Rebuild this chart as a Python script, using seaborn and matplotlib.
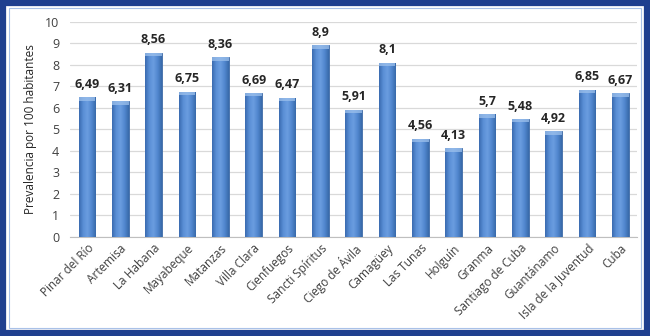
import numpy as np
import pandas as pd
import seaborn as sns
import matplotlib.pyplot as plt
from matplotlib.patches import Rectangle
from matplotlib.colors import LinearSegmentedColormap

provincias = ["Pinar del Río", "Artemisa", "La Habana", "Mayabeque", "Matanzas",
              "Villa Clara", "Cienfuegos", "Sancti Spíritus", "Ciego de Ávila",
              "Camagüey", "Las Tunas", "Holguín", "Granma", "Santiago de Cuba",
              "Guantánamo", "Isla de la Juventud", "Cuba"]
prevalencia = [6.49, 6.31, 8.56, 6.75, 8.36, 6.69, 6.47, 8.9, 5.91,
               8.1, 4.56, 4.13, 5.7, 5.48, 4.92, 6.85, 6.67]
etiquetas = ["6,49", "6,31", "8,56", "6,75", "8,36", "6,69", "6,47", "8,9", "5,91",
             "8,1", "4,56", "4,13", "5,7", "5,48", "4,92", "6,85", "6,67"]

df = pd.DataFrame({"provincia": provincias, "valor": prevalencia})

sns.set_style("white")
plt.rcParams['font.family'] = ['Open Sans', 'DejaVu Sans']

fig = plt.figure(figsize=(6.5, 3.36), dpi=100)
ax = fig.add_axes([0.108, 0.295, 0.872, 0.64])

sns.barplot(data=df, x="provincia", y="valor", color="#4F81BD", width=0.5,
            edgecolor="#3D6BA8", linewidth=0.6, ax=ax, zorder=3)

# horizontal gradient inside each bar (Excel-like look)
grad = LinearSegmentedColormap.from_list("g", ["#3A6BB0", "#5A8FD6", "#6A9DE0", "#5287CF", "#386AAA"])
gimg = np.linspace(0, 1, 64).reshape(1, -1)
for bar in ax.patches:
    x0, w, h = bar.get_x(), bar.get_width(), bar.get_height()
    im = ax.imshow(gimg, cmap=grad, aspect="auto", extent=[x0, x0 + w, 0, h],
                   zorder=3.5, interpolation="bilinear")
    im.set_clip_path(bar)
    ax.add_patch(Rectangle((x0, h - 0.16), w, 0.16, facecolor="#9CC0EC",
                           edgecolor="none", alpha=0.75, zorder=4, clip_path=bar))

for i, (v, t) in enumerate(zip(prevalencia, etiquetas)):
    ax.text(i, v + 0.3, t, ha="center", va="bottom", fontsize=9,
            fontweight="bold", color="#262626")

ax.set_xlim(-0.5, len(provincias) - 0.5)
ax.set_ylim(0, 10)
ax.set_yticks(range(0, 11))
ax.yaxis.grid(True, color="#D9D9D9", linewidth=0.9, zorder=0)
ax.set_axisbelow(True)
for s in ["top", "right", "left"]:
    ax.spines[s].set_visible(False)
ax.spines["bottom"].set_color("#BFBFBF")
ax.tick_params(axis="y", labelsize=9, labelcolor="#404040", length=0, pad=8)
ax.tick_params(axis="x", labelsize=8.5, labelcolor="#404040", length=0)
plt.setp(ax.get_xticklabels(), rotation=45, ha="right", rotation_mode="anchor")
ax.set_xlabel("")
ax.set_ylabel("Prevalencia por 100 habitantes", fontsize=8.5, color="#262626", labelpad=6)

# frame around the figure
fig.patches.append(Rectangle((0.005, 0.008), 0.99, 0.984, transform=fig.transFigure,
                             fill=False, edgecolor="#1F3F8F", linewidth=4.5))
fig.patches.append(Rectangle((0.0135, 0.0245), 0.973, 0.951, transform=fig.transFigure,
                             fill=False, edgecolor="#A9C1E8", linewidth=0.8))

fig.savefig("out.png", dpi=100)
